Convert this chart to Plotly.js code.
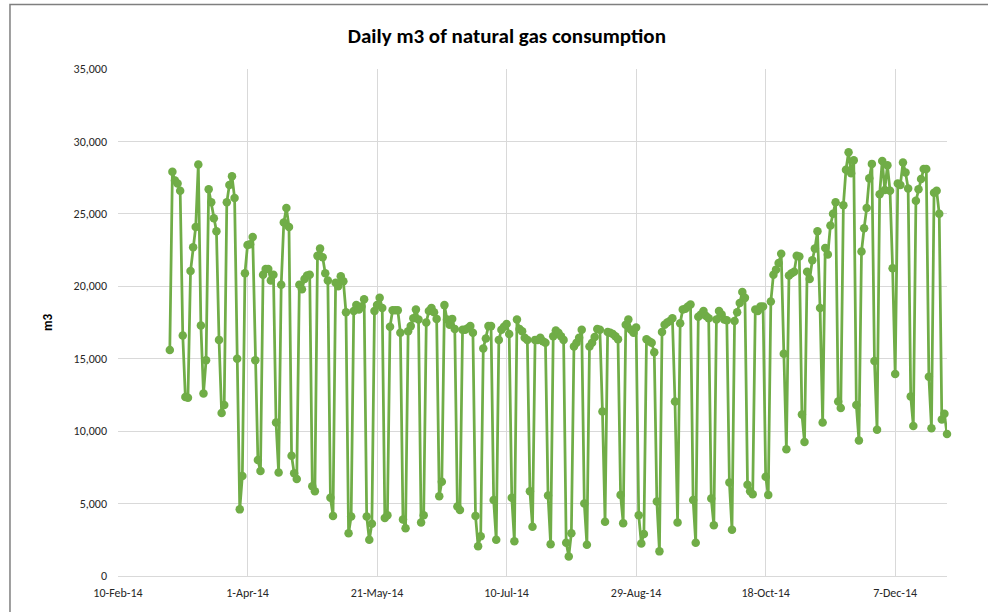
<!DOCTYPE html>
<html>
<head>
<meta charset="utf-8">
<script src="https://cdn.plot.ly/plotly-3.0.1.min.js"></script>
<style>
  html, body { margin: 0; padding: 0; background: #ffffff; }
  #chart { width: 988px; height: 612px; }
</style>
</head>
<body>
<div id="chart"></div>
<script>
// First day of the series (daily data)
const startDate = [2014, 2, 2]; // 2 March 2014

// Daily m3 values, month by month
const mar = [15600,
  27900, 27300, 27100, 26600, 16600, 12350, 12300,
  21050, 22700, 24100, 28400, 17300, 12600, 14900,
  26700, 25800, 24700, 23800, 16300, 11250, 11800,
  25800, 27000, 27600, 26100, 15000, 4600, 6900,
  20900];
const apr = [22850, 22900, 23400, 14900, 8000, 7250,
  20800, 21200, 21200, 20400, 20800, 10600, 7150,
  20100, 24400, 25400, 24100, 8300, 7100, 6700,
  20100, 19800, 20500, 20750, 20800, 6200, 5850,
  22100, 22600, 22000];
const may = [20900, 20400, 5400, 4150,
  20250, 20000, 20700, 20350, 18200, 2950, 4100,
  18300, 18700, 18400, 18600, 19100, 4100, 2500,
  3600, 18300, 18700, 19200, 18500, 4000, 4200,
  17200, 18350, 18350, 18350, 16800, 3900];
const jun = [3300,
  16900, 17250, 17800, 18400, 17700, 3700, 4200,
  17500, 18300, 18500, 18200, 17750, 5500, 6500,
  18700, 17700, 17350, 17750, 17050, 4800, 4550,
  17000, 17000, 17100, 17250, 16800, 4150, 2050,
  2750];
const jul = [15700, 16400, 17250, 17250, 5250, 2500,
  16300, 17000, 17200, 17400, 16700, 5400, 2400,
  17700, 17050, 16900, 16450, 16300, 5850, 3400,
  16300, 16300, 16450, 16200, 16100, 5550, 2200,
  16550, 16950, 16800, 16550];
const aug = [16300, 2300, 1350,
  2950, 15850, 16100, 16450, 17000, 5000, 2150,
  15850, 16100, 16500, 17050, 17000, 11350, 3750,
  16850, 16800, 16700, 16550, 16350, 5600, 3650,
  17350, 17700, 17000, 16800, 17150, 4200, 2250];
const sep = [2900, 16350, 16200, 16100, 15450, 5150, 1700,
  16850, 17350, 17500, 17600, 17800, 12050, 3700,
  17450, 18400, 18450, 18600, 18750, 5250, 2300,
  17900, 18050, 18300, 17950, 17800, 5350, 3500,
  17700, 18300];
const oct = [18050, 17700, 17650, 6450, 3200,
  17600, 18200, 18850, 19600, 19200, 6300, 5850,
  5650, 18400, 18300, 18600, 18600, 6850, 5600,
  18950, 20800, 21150, 21600, 22250, 15350, 8750,
  20750, 20900, 21000, 22100, 22050];
const nov = [11150, 9250,
  21000, 20500, 21800, 22600, 23800, 18500, 10600,
  22650, 22200, 24200, 25000, 25800, 12050, 11600,
  25600, 28050, 29250, 27800, 28700, 11800, 9350,
  22400, 24000, 25400, 27450, 28450, 14850, 10100];
const dec = [26350, 28650, 26650, 28350, 26600, 21250, 13950,
  27100, 27000, 28550, 27850, 26750, 12400, 10350,
  25900, 26700, 27400, 28100, 28100, 13750, 10200,
  26450, 26600, 25000, 10800, 11200, 9800];

// Axis settings
const xRange = ['2014-02-10', '2014-12-27'];
const xTick0 = '2014-02-10';
const xTickDays = 50;
const yTicks = [0, 5000, 10000, 15000, 20000, 25000, 30000, 35000];

const values = [].concat(mar, apr, may, jun, jul, aug, sep, oct, nov, dec);
const dates = values.map((v, i) => {
  const d = new Date(Date.UTC(startDate[0], startDate[1], startDate[2] + i));
  return d.toISOString().slice(0, 10);
});

const FONT = 'Carlito, Lato, "Liberation Sans", sans-serif';
const green = '#70ad47';

const trace = {
  type: 'scatter',
  mode: 'lines+markers',
  x: dates,
  y: values,
  line: { color: green, width: 2.75 },
  marker: { color: green, size: 8.5 },
  cliponaxis: false,
  hoverinfo: 'x+y'
};

const layout = {
  width: 988,
  height: 612,
  margin: { l: 118, r: 41, t: 69, b: 36 },
  paper_bgcolor: '#ffffff',
  plot_bgcolor: '#ffffff',
  showlegend: false,
  font: { family: FONT, color: '#404040', size: 12 },
  title: {
    text: '<b>Daily m3 of natural gas consumption</b>',
    font: { family: FONT, size: 21, color: '#000000' },
    xref: 'container', x: 0.513, xanchor: 'center',
    yref: 'container', y: 0.941, yanchor: 'middle'
  },
  xaxis: {
    type: 'date',
    range: xRange,
    tick0: xTick0,
    dtick: xTickDays * 86400000,
    tickformat: '%-d-%b-%y',
    showgrid: true,
    gridcolor: '#d9d9d9',
    gridwidth: 1,
    showline: true,
    linecolor: '#d9d9d9',
    linewidth: 1,
    zeroline: false,
    ticks: '',
    ticklabelstandoff: 6,
    tickfont: { family: FONT, size: 12, color: '#262626' }
  },
  yaxis: {
    range: [0, 35000],
    tickvals: yTicks,
    tickformat: ',d',
    showgrid: true,
    gridcolor: '#d9d9d9',
    gridwidth: 1,
    showline: false,
    zeroline: false,
    ticks: '',
    ticklabelstandoff: 10,
    tickfont: { family: FONT, size: 12, color: '#262626' },
    title: { text: '<b>m3</b>', font: { family: FONT, size: 13, color: '#000000' }, standoff: 18 }
  },
  shapes: [{
    type: 'rect', xref: 'paper', yref: 'paper',
    x0: -0.1303, x1: 1.07, y0: -0.1, y1: 1.127,
    line: { color: '#7f7f7f', width: 1.5 },
    fillcolor: 'rgba(0,0,0,0)',
    layer: 'below'
  }]
};

Plotly.newPlot('chart', [trace], layout, { displayModeBar: false, staticPlot: true });
</script>
</body>
</html>
